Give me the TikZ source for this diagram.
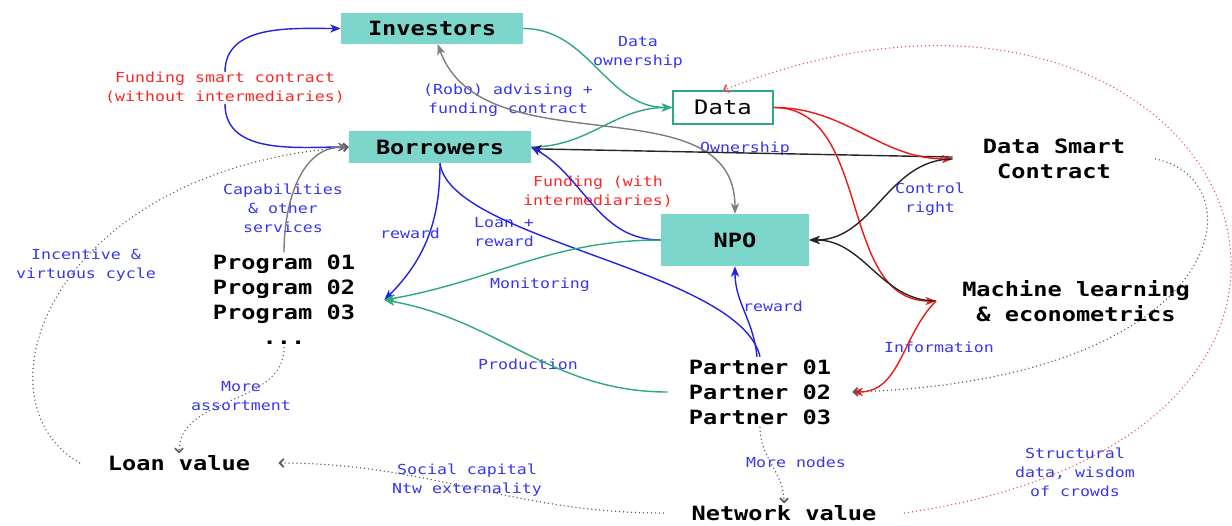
\documentclass[tikz,border=0pt]{standalone}
\usepackage{fontspec}
\usetikzlibrary{arrows.meta,graphs}

\newfontfamily\codefont[FakeStretch=1.2]{DejaVu Sans Mono}
\newcommand\lblfont{\codefont\fontsize{11.8}{16.2}\selectfont}
\newcommand\boxfont{\codefont\bfseries\fontsize{16.8}{21.3}\selectfont}

\definecolor{boxteal}{RGB}{125,214,204}
\definecolor{lblblue}{RGB}{55,55,235}
\definecolor{lblred}{RGB}{250,40,40}
\definecolor{edgeblue}{RGB}{35,35,225}
\definecolor{edgegreen}{RGB}{45,170,125}
\definecolor{edgered}{RGB}{235,25,25}
\definecolor{edgegray}{RGB}{125,125,125}
\definecolor{dotgray}{RGB}{90,90,90}
\definecolor{dotred}{RGB}{235,80,80}

\tikzset{
  cbox/.style={fill=boxteal, font=\boxfont, inner sep=0pt},
  txt/.style={font=\boxfont, align=center, inner ysep=0.08cm},
  lbl/.style={font=\lblfont, text=lblblue, align=center, inner sep=0pt},
  redlbl/.style={lbl, text=lblred},
  blueline/.style={draw=edgeblue, line width=1.2pt},
  greenline/.style={draw=edgegreen, line width=1.2pt},
  redline/.style={draw=edgered, line width=1.2pt},
  grayline/.style={draw=edgegray, line width=1.2pt},
  blackline/.style={draw=black!85, line width=1.2pt},
  dotline/.style={draw=dotgray, line width=1.3pt, dash pattern=on 0pt off 3.4pt,
    line cap=round, >={Straight Barb[length=3.5pt,width=7pt,line width=1.5pt]}},
}

\begin{document}
\begin{tikzpicture}[x=0.03cm, y=-0.03cm, >={Stealth[length=9pt,width=7pt,inset=2.5pt]}]
  \useasboundingbox (0,0) rectangle (1232,525);
    \node[cbox, minimum width=5.46cm, minimum height=0.93cm] (inv) at (432,28.5) {Investors};
    \node[cbox, minimum width=5.46cm, minimum height=0.96cm] (bor) at (440,147) {Borrowers};
    \node[draw=edgegreen, line width=1.2pt, fill=white, minimum width=3cm, minimum height=0.99cm,
      font=\codefont\fontsize{17}{21.3}\selectfont, inner sep=0pt] (data) at (723,107.5) {Data};
    \node[cbox, minimum width=4.44cm, minimum height=1.56cm] (npo) at (735,240) {NPO};
    \node[txt, inner xsep=0.9cm] (dsc) at (1054,159) {Data Smart\\Contract};
    \node[txt, inner xsep=0.78cm] (ml) at (1076,301) {Machine learning\\\& econometrics};
    \node[txt, inner xsep=0.87cm] (prog) at (284,300) {Program 01\\Program 02\\Program 03\\...};
    \node[txt, inner xsep=0.63cm] (part) at (760,392) {Partner 01\\Partner 02\\Partner 03};
    \node[txt, inner xsep=0.84cm, inner ysep=0.05cm] (loan) at (179,463) {Loan value};
    \node[txt, inner xsep=0.84cm, inner ysep=0.05cm] (net) at (784,513) {Network value};

    % labels
    \node[redlbl] (fsc) at (225,88) {Funding smart contract\\(without intermediaries)};
    \node[lbl] (lown) at (638,52) {Data\\ownership};
    \node[lbl] (lrobo) at (508,100) {(Robo) advising +\\funding contract};
    \node[lbl] (lowner) at (745,149) {Ownership};
    \node[redlbl] (lfund) at (598,192) {Funding (with\\intermediaries)};
    \node[lbl] (lctrl) at (930,199) {Control\\right};
    \node[lbl] (lcap) at (283,208) {Capabilities\\\& other\\services};
    \node[lbl] (lrew) at (410,233) {reward};
    \node[lbl] (lloan) at (504,232) {Loan +\\reward};
    \node[lbl] (linc) at (86,265) {Incentive \&\\virtuous cycle};
    \node[lbl] (lmon) at (540,285) {Monitoring};
    \node[lbl] (lrew2) at (773,306) {reward};
    \node[lbl] (lprod) at (528,364) {Production};
    \node[lbl] (linfo) at (939,347) {Information};
    \node[lbl] (lass) at (241,396) {More\\assortment};
    \node[lbl] (lsoc) at (467,480) {Social capital\\Ntw externality};
    \node[lbl] (lmore) at (796,462) {More nodes};
    \node[lbl] (lstr) at (1075,472) {Structural\\data, wisdom\\of crowds};

  \graph[use existing nodes] {
    fsc ->[blueline, out=90, in=180] inv;
    fsc ->[blueline, out=-90, in=180] bor;
    inv ->[greenline, out=0, in=180] data;
    bor ->[greenline, out=0, in=180] data;
    inv <->[grayline, out=-70, in=90] npo;
    dsc ->[blackline] bor;
    data ->[redline, out=0, in=180] dsc;
    data ->[redline, out=0, in=180] ml;
    dsc ->[blackline, out=180, in=0] npo;
    ml ->[blackline, out=180, in=0] npo;
    part ->[blueline, out=95, in=-90] npo;
    prog ->[grayline, out=90, in=180] bor;
    prog ->[dotline, out=-90, in=90] loan;
    net ->[dotline, out=180, in=0] loan;
    part ->[dotline, out=-90, in=90] net;
  };
  \draw[blueline] (bor.south) .. controls (450,240) and (740,270) .. (part.north);
  \draw[redline, ->] (ml.west) to[out=225, in=0] (part.east);
  \draw[blueline, ->] (npo.west) to[out=180, in=-30] (bor.east);
  \draw[blueline, ->] (bor.south) to[out=-90, in=45] (prog.east);
  \draw[greenline, ->] (npo.west) to[out=180, in=10] (prog.east);
  \draw[greenline, ->] (part.west) to[out=180, in=-10] (prog.east);
  \draw[dotline, ->] (loan.west) .. controls (-30,400) and (50,170) .. (bor.west);
  \draw[dotline, ->] (dsc.east) .. controls (1260,180) and (1230,380) .. (part.east);
  \draw[dotline, draw=dotred, ->] (net.east) .. controls (1470,430) and (1230,-110) .. (data.north);
\end{tikzpicture}
\end{document}
